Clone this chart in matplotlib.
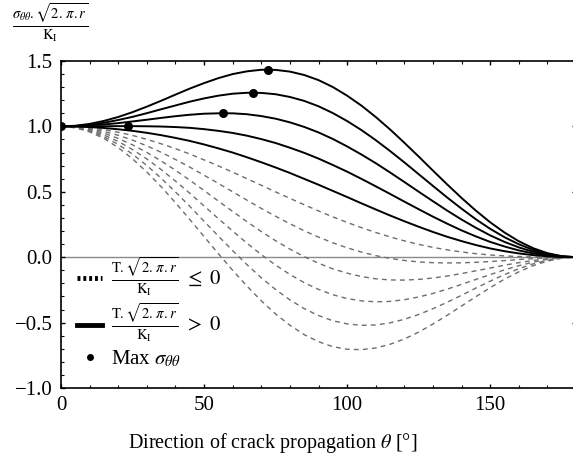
import numpy as np
import matplotlib
matplotlib.use("Agg")
import matplotlib.pyplot as plt
from matplotlib.lines import Line2D
from matplotlib.ticker import MultipleLocator, FuncFormatter

plt.rcParams['font.family'] = ['Liberation Serif', 'DejaVu Serif']
plt.rcParams['mathtext.fontset'] = 'stix'

# crack propagation angle (degrees)
theta = [0, 5, 10, 15, 20, 25, 30, 35, 40, 45, 50, 55, 60, 65, 70, 75, 80, 85, 90,
         95, 100, 105, 110, 115, 120, 125, 130, 135, 140, 145, 150, 155, 160, 165, 170, 175, 180]

# normalised hoop stress, one list per T-stress level
t_p10 = [1.000, 1.005, 1.019, 1.042, 1.072, 1.109, 1.151, 1.196, 1.243, 1.289, 1.331, 1.369, 1.400,
         1.421, 1.433, 1.432, 1.419, 1.393, 1.354, 1.301, 1.235, 1.159, 1.072, 0.977, 0.875, 0.770,
         0.662, 0.556, 0.453, 0.356, 0.267, 0.189, 0.122, 0.069, 0.031, 0.008, 0.0]
t_p08 = [1.000, 1.003, 1.013, 1.028, 1.049, 1.073, 1.101, 1.131, 1.160, 1.189, 1.214, 1.235, 1.250,
         1.257, 1.256, 1.246, 1.225, 1.195, 1.154, 1.102, 1.041, 0.972, 0.895, 0.812, 0.725, 0.635,
         0.545, 0.456, 0.371, 0.290, 0.217, 0.153, 0.099, 0.056, 0.025, 0.006, 0.0]
t_p06 = [1.000, 1.002, 1.007, 1.015, 1.025, 1.038, 1.051, 1.065, 1.078, 1.089, 1.097, 1.100, 1.100,
         1.093, 1.079, 1.059, 1.031, 0.996, 0.954, 0.904, 0.847, 0.785, 0.719, 0.648, 0.575, 0.501,
         0.428, 0.356, 0.288, 0.225, 0.167, 0.117, 0.075, 0.042, 0.019, 0.005, 0.0]
t_p04 = [1.000, 1.000, 1.001, 1.001, 1.002, 1.002, 1.001, 0.999, 0.995, 0.989, 0.979, 0.966, 0.950,
         0.929, 0.903, 0.873, 0.837, 0.798, 0.754, 0.705, 0.654, 0.599, 0.542, 0.484, 0.425, 0.367,
         0.310, 0.256, 0.205, 0.159, 0.117, 0.082, 0.052, 0.029, 0.013, 0.003, 0.0]
t_p02 = [1.000, 0.999, 0.995, 0.988, 0.978, 0.966, 0.951, 0.933, 0.912, 0.889, 0.862, 0.832, 0.800,
         0.764, 0.726, 0.686, 0.644, 0.599, 0.554, 0.507, 0.460, 0.412, 0.365, 0.319, 0.275, 0.233,
         0.193, 0.156, 0.123, 0.093, 0.067, 0.046, 0.029, 0.016, 0.007, 0.002, 0.0]
t_00 = [1.000, 0.997, 0.989, 0.975, 0.955, 0.931, 0.901, 0.867, 0.830, 0.789, 0.744, 0.698, 0.650,
        0.600, 0.550, 0.499, 0.450, 0.401, 0.354, 0.308, 0.266, 0.226, 0.189, 0.155, 0.125, 0.098,
        0.075, 0.056, 0.040, 0.027, 0.017, 0.010, 0.005, 0.002, 0.001, 0.000, 0.0]
t_m02 = [1.000, 0.996, 0.983, 0.961, 0.932, 0.895, 0.851, 0.802, 0.747, 0.689, 0.627, 0.564, 0.500,
         0.436, 0.373, 0.313, 0.256, 0.202, 0.154, 0.110, 0.072, 0.039, 0.012, -0.009, -0.025, -0.036,
         -0.042, -0.044, -0.043, -0.039, -0.033, -0.026, -0.018, -0.011, -0.005, -0.001, 0.0]
t_m04 = [1.000, 0.994, 0.977, 0.948, 0.908, 0.859, 0.801, 0.736, 0.665, 0.589, 0.510, 0.429, 0.350,
         0.271, 0.196, 0.126, 0.062, 0.004, -0.046, -0.089, -0.122, -0.148, -0.165, -0.174, -0.175,
         -0.170, -0.159, -0.144, -0.125, -0.104, -0.083, -0.061, -0.042, -0.025, -0.011, -0.003, 0.0]
t_m06 = [1.000, 0.993, 0.971, 0.934, 0.885, 0.823, 0.751, 0.670, 0.582, 0.489, 0.392, 0.295, 0.200,
         0.107, 0.020, -0.060, -0.132, -0.195, -0.246, -0.287, -0.316, -0.334, -0.341, -0.338, -0.325,
         -0.304, -0.277, -0.244, -0.208, -0.170, -0.133, -0.097, -0.065, -0.038, -0.017, -0.005, 0.0]
t_m08 = [1.000, 0.991, 0.965, 0.921, 0.862, 0.788, 0.701, 0.604, 0.499, 0.389, 0.275, 0.161, 0.050,
         -0.057, -0.157, -0.247, -0.326, -0.393, -0.446, -0.486, -0.510, -0.521, -0.518, -0.502, -0.475,
         -0.438, -0.394, -0.344, -0.291, -0.236, -0.183, -0.133, -0.088, -0.051, -0.023, -0.006, 0.0]
t_m10 = [1.000, 0.990, 0.958, 0.908, 0.838, 0.752, 0.651, 0.539, 0.417, 0.289, 0.158, 0.027, -0.100,
         -0.221, -0.333, -0.434, -0.520, -0.592, -0.646, -0.684, -0.704, -0.707, -0.694, -0.666, -0.625,
         -0.573, -0.511, -0.444, -0.373, -0.302, -0.233, -0.168, -0.112, -0.065, -0.030, -0.008, 0.0]

positive_T = [t_p10, t_p08, t_p06, t_p04, t_p02]
negative_T = [t_00, t_m02, t_m04, t_m06, t_m08, t_m10]

# location of the hoop stress maximum
max_theta = [0.0, 23.3, 56.7, 67.0, 72.4]
max_sigma = [1.000, 1.002, 1.101, 1.258, 1.434]

fig = plt.figure(figsize=(5.73, 4.65), dpi=100)
ax = fig.add_axes([61 / 573, 1 - 388 / 465, 515 / 573, 327 / 465])

ax.axhline(0, color="#8a8a8a", lw=1.0, zorder=1)
for curve in negative_T:
    ax.plot(theta, curve, color="#6e6e6e", lw=1.0, dashes=(3.5, 3.0), zorder=2)
for curve in positive_T:
    ax.plot(theta, curve, color="black", lw=1.4, zorder=3)
ax.scatter(max_theta, max_sigma, s=30, color="black", zorder=4)

ax.set_xlim(0, 180)
ax.set_ylim(-1.0, 1.5)
ax.xaxis.set_major_locator(MultipleLocator(50))
ax.xaxis.set_minor_locator(MultipleLocator(10))
ax.yaxis.set_major_locator(MultipleLocator(0.5))
ax.yaxis.set_minor_locator(MultipleLocator(0.1))
ax.yaxis.set_major_formatter(FuncFormatter(lambda v, p: f"{v:.1f}".replace("-", "\u2212")))
ax.tick_params(which="both", direction="in", top=True, right=True, labelsize=15)
ax.tick_params(which="major", length=3, width=1.0, pad=6)
ax.tick_params(which="minor", length=2, width=0.8)
for sp in ax.spines.values():
    sp.set_linewidth(1.2)

ax.set_xlabel(r"Direction of crack propagation $\theta$ [°]", fontsize=14.5)
ax.xaxis.set_label_coords((273 - 61) / 515, -(443 - 388) / 327)
ax.xaxis.label.set_va("center")
fig.text(12 / 573, 1 - 23 / 465, r"$\frac{\sigma_{\theta\theta}.\sqrt{2.\,\pi.r}}{\mathrm{K_I}}$",
         fontsize=15, ha="left", va="center")

handles = [
    Line2D([], [], color="black", lw=3.5, linestyle=(0, (0.6, 0.6))),
    Line2D([], [], color="black", lw=3.5),
    Line2D([], [], color="black", lw=0, marker="o", markersize=4),
]
labels = [
    r"$\frac{\mathrm{T}.\sqrt{2.\,\pi.r}}{\mathrm{K_I}}\ \leq\ 0$",
    r"$\frac{\mathrm{T}.\sqrt{2.\,\pi.r}}{\mathrm{K_I}}\ >\ 0$",
    r"Max $\sigma_{\theta\theta}$",
]
ax.legend(handles, labels, loc="lower left", bbox_to_anchor=(-0.005, 0.0), frameon=False,
          fontsize=15, handlelength=1.2, handletextpad=0.4, labelspacing=0.2)

fig.savefig("out.png", dpi=100)
